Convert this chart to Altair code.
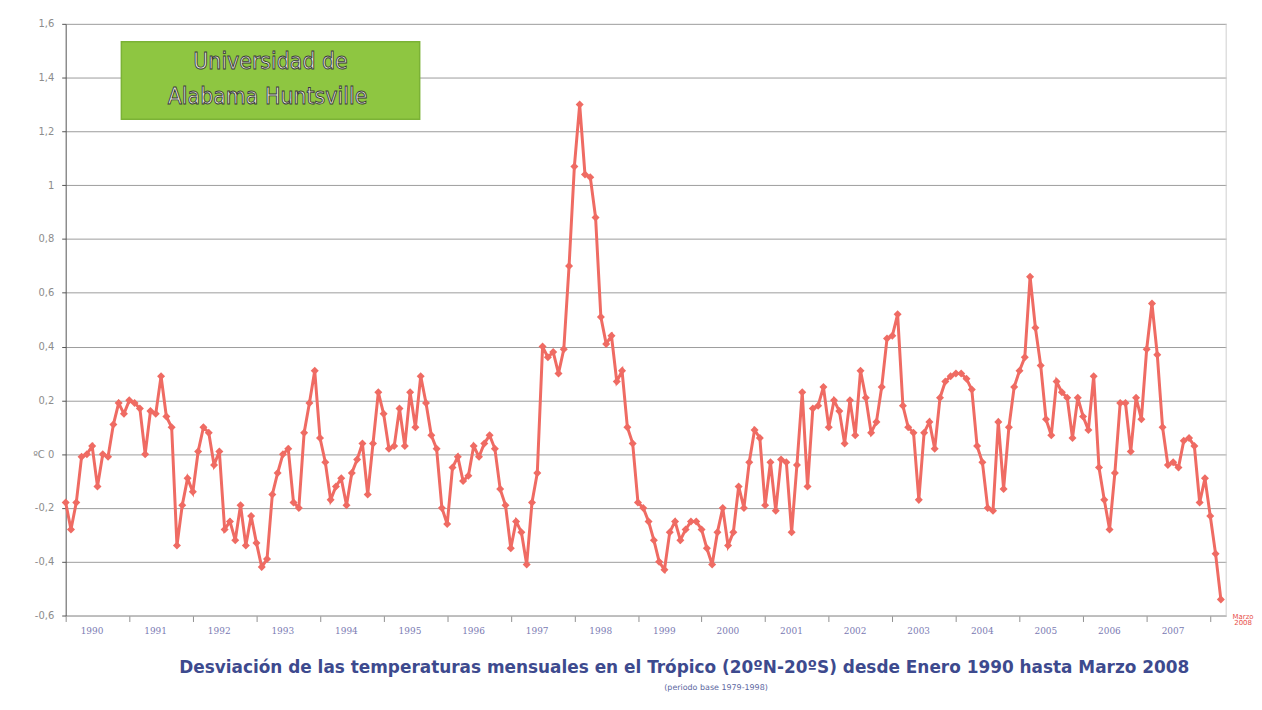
import altair as alt
import pandas as pd

# ---- data ----
year_labels = ["1990", "1991", "1992", "1993", "1994", "1995", "1996", "1997", "1998",
               "1999", "2000", "2001", "2002", "2003", "2004", "2005", "2006", "2007"]

v1990 = [-0.18, -0.28, -0.18, -0.01, 0.00, 0.03, -0.12, 0.00, -0.01, 0.11, 0.19, 0.15]
v1991 = [0.20, 0.19, 0.17, 0.00, 0.16, 0.15, 0.29, 0.14, 0.10, -0.34, -0.19, -0.09]
v1992 = [-0.14, 0.01, 0.10, 0.08, -0.04, 0.01, -0.28, -0.25, -0.32, -0.19, -0.34, -0.23]
v1993 = [-0.33, -0.42, -0.39, -0.15, -0.07, 0.00, 0.02, -0.18, -0.20, 0.08, 0.19, 0.31]
v1994 = [0.06, -0.03, -0.17, -0.12, -0.09, -0.19, -0.07, -0.02, 0.04, -0.15, 0.04, 0.23]
v1995 = [0.15, 0.02, 0.03, 0.17, 0.03, 0.23, 0.10, 0.29, 0.19, 0.07, 0.02, -0.20]
v1996 = [-0.26, -0.05, -0.01, -0.10, -0.08, 0.03, -0.01, 0.04, 0.07, 0.02, -0.13, -0.19]
v1997 = [-0.35, -0.25, -0.29, -0.41, -0.18, -0.07, 0.40, 0.36, 0.38, 0.30, 0.39, 0.70]
v1998 = [1.07, 1.30, 1.04, 1.03, 0.88, 0.51, 0.41, 0.44, 0.27, 0.31, 0.10, 0.04]
v1999 = [-0.18, -0.20, -0.25, -0.32, -0.40, -0.43, -0.29, -0.25, -0.32, -0.28, -0.25, -0.25]
v2000 = [-0.28, -0.35, -0.41, -0.29, -0.20, -0.34, -0.29, -0.12, -0.20, -0.03, 0.09, 0.06]
v2001 = [-0.19, -0.03, -0.21, -0.02, -0.03, -0.29, -0.04, 0.23, -0.12, 0.17, 0.18, 0.25]
v2002 = [0.10, 0.20, 0.16, 0.04, 0.20, 0.07, 0.31, 0.21, 0.08, 0.12, 0.25, 0.43]
v2003 = [0.44, 0.52, 0.18, 0.10, 0.08, -0.17, 0.08, 0.12, 0.02, 0.21, 0.27, 0.29]
v2004 = [0.30, 0.30, 0.28, 0.24, 0.03, -0.03, -0.20, -0.21, 0.12, -0.13, 0.10, 0.25]
v2005 = [0.31, 0.36, 0.66, 0.47, 0.33, 0.13, 0.07, 0.27, 0.23, 0.21, 0.06, 0.21]
v2006 = [0.14, 0.09, 0.29, -0.05, -0.17, -0.28, -0.07, 0.19, 0.19, 0.01, 0.21, 0.13]
v2007 = [0.39, 0.56, 0.37, 0.10, -0.04, -0.03, -0.05, 0.05, 0.06, 0.03, -0.18, -0.09]
v2008 = [-0.23, -0.37, -0.54]

y_ticks = [-0.6, -0.4, -0.2, 0.0, 0.2, 0.4, 0.6, 0.8, 1.0, 1.2, 1.4, 1.6]
y_labels = ["-0,6", "-0,4", "-0,2", "ºC 0", "0,2", "0,4", "0,6", "0,8", "1", "1,2", "1,4", "1,6"]

title_text = "Desviación de las temperaturas mensuales en el Trópico (20ºN-20ºS) desde Enero 1990 hasta  Marzo 2008"
subtitle_text = "(periodo base 1979-1998)"
badge_lines = ["Universidad de", "Alabama Huntsville"]
end_label = ["Marzo", "2008"]

values = (v1990 + v1991 + v1992 + v1993 + v1994 + v1995 + v1996 + v1997 + v1998 + v1999
          + v2000 + v2001 + v2002 + v2003 + v2004 + v2005 + v2006 + v2007 + v2008)
df = pd.DataFrame({"m": list(range(len(values))), "v": values})

W, H = 1167, 595
LINE = "#ef6b63"

y_label_expr = "[" + ",".join("'%s'" % s for s in y_labels) + "][round((datum.value + 0.6) / 0.2)]"
x_label_expr = ("datum.value / 12 < %d ? [" % len(year_labels)
                + ",".join("'%s'" % s for s in year_labels) + "][datum.value / 12] : ''")

x_enc = alt.X("m:Q", scale=alt.Scale(domain=[0, 219], nice=False, zero=False),
              axis=alt.Axis(values=list(range(0, 217, 12)), labelExpr=x_label_expr, title=None,
                            grid=False, domainColor="#b0b0b0", tickColor="#909090", tickSize=6,
                            labelColor="#7b7bb3", labelFontSize=9, labelFont="DejaVu Serif",
                            labelPadding=5, labelOffset=26, labelFlush=False))
y_enc = alt.Y("v:Q", scale=alt.Scale(domain=[-0.6, 1.6], nice=False, zero=False),
              axis=alt.Axis(values=y_ticks, labelExpr=y_label_expr, title=None,
                            grid=True, gridColor="#9c9c9c", gridWidth=1,
                            domainColor="#555555", tickColor="#555555", tickSize=4,
                            labelColor="#8c8c8c", labelFontSize=10, labelFont="DejaVu Sans",
                            labelPadding=8))

series = alt.Chart(df).mark_line(
    color=LINE, strokeWidth=3,
    point=alt.OverlayMarkDef(shape="diamond", size=65, filled=True, color=LINE)
).encode(x=x_enc, y=y_enc)

right_rule = alt.Chart(pd.DataFrame({"a": [0]})).mark_rule(color="#cfcfcf", strokeWidth=1).encode(
    x=alt.value(W), y=alt.value(0), y2=alt.value(H))

badge = alt.Chart(pd.DataFrame({"a": [0]})).mark_rect(
    color="#8ec641", stroke="#7bb236", strokeWidth=1.5).encode(
    x=alt.value(56), x2=alt.value(356), y=alt.value(18), y2=alt.value(96))

badge_t1 = alt.Chart(pd.DataFrame({"t": [badge_lines[0]]})).mark_text(
    fontSize=23, font="DejaVu Sans Condensed", fill="#f4f4ea", stroke="#3a3a3a", strokeWidth=0.9,
    align="center", baseline="middle").encode(text="t:N", x=alt.value(206), y=alt.value(38))
badge_t2 = alt.Chart(pd.DataFrame({"t": [badge_lines[1]]})).mark_text(
    fontSize=23, font="DejaVu Sans Condensed", fill="#f4f4ea", stroke="#3a3a3a", strokeWidth=0.9,
    align="center", baseline="middle").encode(text="t:N", x=alt.value(203), y=alt.value(74))

end_t = alt.Chart(pd.DataFrame({"t": end_label, "k": [0, 1]})).mark_text(
    fontSize=7, color="#e8504a", align="center", baseline="middle", font="DejaVu Sans").encode(
    text="t:N", x=alt.value(1184),
    y=alt.Y("k:O", scale=alt.Scale(range=[594, 606]), axis=None))

title = alt.Chart(pd.DataFrame({"t": [title_text]})).mark_text(
    fontSize=17, fontWeight="bold", font="DejaVu Sans", color="#3d4a8e",
    align="center", baseline="middle").encode(text="t:N", x=alt.value(622), y=alt.value(648))
subtitle = alt.Chart(pd.DataFrame({"t": [subtitle_text]})).mark_text(
    fontSize=8, font="DejaVu Sans", color="#5a66a0",
    align="center", baseline="middle").encode(text="t:N", x=alt.value(654), y=alt.value(668))

chart = alt.layer(series, right_rule, badge, badge_t1, badge_t2, end_t, title, subtitle).resolve_scale(
    y="independent").properties(
    width=W, height=H, autosize=alt.AutoSizeParams(type="none"),
    padding={"left": 58, "top": 14, "right": 28, "bottom": 79},
    background="white"
).configure_view(stroke=None)

chart.save("out.html", embed_options={"renderer": "svg", "actions": False})
